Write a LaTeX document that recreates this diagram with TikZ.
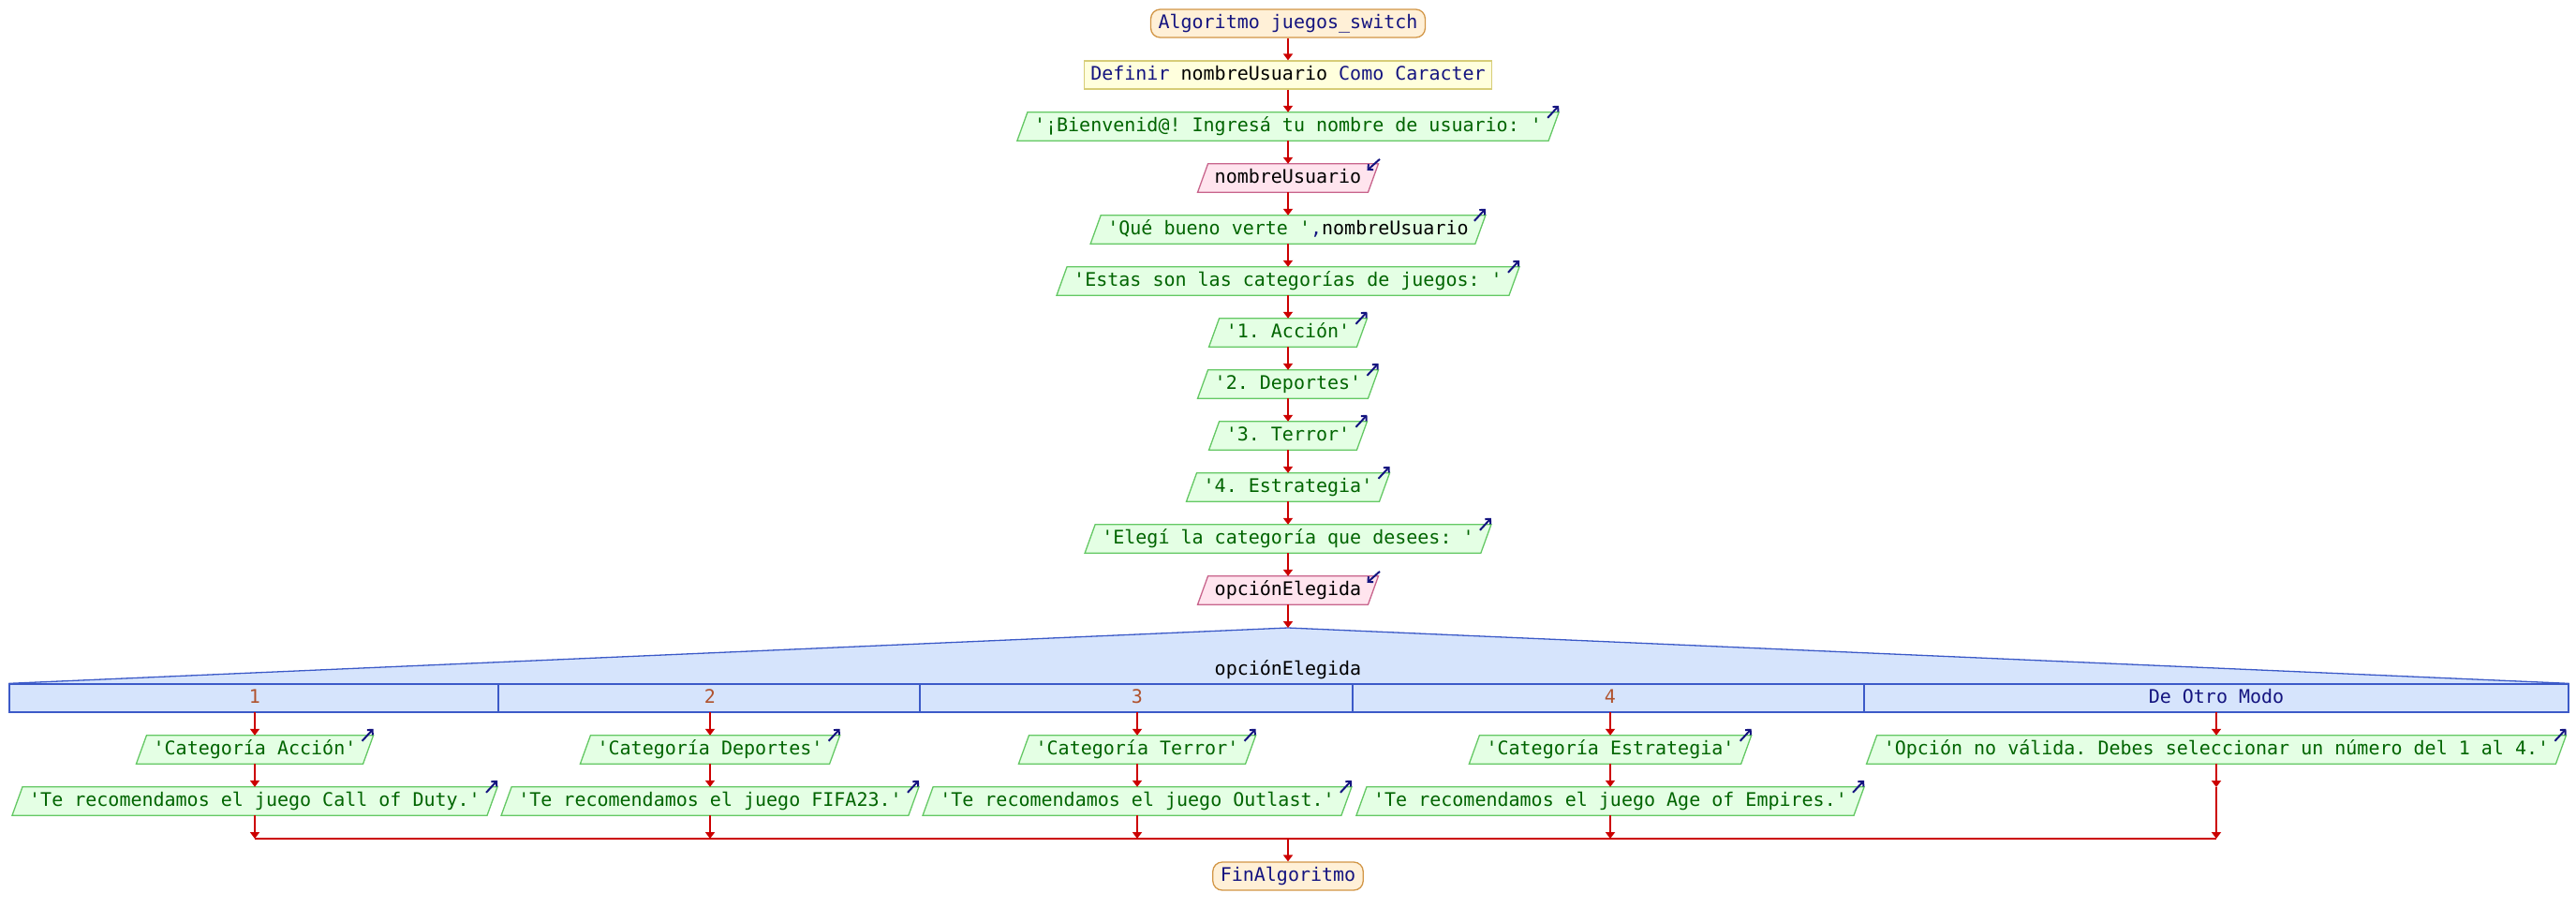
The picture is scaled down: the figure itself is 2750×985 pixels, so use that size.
\documentclass[tikz,border=0pt]{standalone}
\usepackage{fontspec}
\setmonofont{DejaVu Sans Mono}
\usetikzlibrary{arrows.meta}
\pgfdeclarelayer{canvas}
\pgfdeclarelayer{background}
\pgfsetlayers{canvas,background,main}

\definecolor{flowred}{RGB}{204,0,0}
\definecolor{kwblue}{RGB}{20,20,128}
\definecolor{strgreen}{RGB}{0,100,0}
\definecolor{termfill}{RGB}{255,240,215}
\definecolor{termedge}{RGB}{210,150,70}
\definecolor{deffill}{RGB}{255,255,221}
\definecolor{defedge}{RGB}{215,205,120}
\definecolor{outfill}{RGB}{228,255,228}
\definecolor{outedge}{RGB}{100,200,100}
\definecolor{infill}{RGB}{255,228,238}
\definecolor{inedge}{RGB}{200,100,140}
\definecolor{swfill}{RGB}{214,228,252}
\definecolor{swedge}{RGB}{60,90,200}
\definecolor{casenum}{RGB}{176,82,45}

% parallelogram drawn behind a text node
\newcommand\pgram[2]{%
  \begin{pgfonlayer}{background}
  \draw[#2] ([xshift=-5.5pt]#1.south west) -- ([xshift=5.5pt]#1.north west)
    -- ([xshift=5.5pt]#1.north east) -- ([xshift=-5.5pt]#1.south east) -- cycle;
  \end{pgfonlayer}}
% small output / input markers at the top right corner
\newcommand\outmark[1]{\draw[iomark] ([xshift=-6.5pt,yshift=-6pt]#1.north east) -- ([xshift=5.5pt,yshift=7pt]#1.north east);}
\newcommand\inmark[1]{\draw[iomark] ([xshift=7pt,yshift=5pt]#1.north east) -- ([xshift=-6.5pt,yshift=-7pt]#1.north east);}

\tikzset{
  every node/.style={font=\fontsize{20}{24}\selectfont\ttfamily\frenchspacing,
    text height=15pt, text depth=4pt, inner ysep=5.5pt},
  term/.style={draw=termedge, fill=termfill, line width=1.3pt, rounded corners=10pt,
    inner xsep=8pt, text=kwblue},
  defbox/.style={draw=defedge, fill=deffill, line width=1.3pt, inner xsep=6.5pt, text=kwblue},
  outtxt/.style={inner xsep=12.5pt, text=strgreen},
  intxt/.style={inner xsep=12.5pt, text=black},
  outshape/.style={draw=outedge, fill=outfill, line width=1.3pt},
  inshape/.style={draw=inedge, fill=infill, line width=1.3pt},
  flow/.style={draw=flowred, line width=2.5pt, -{Triangle[length=7pt,width=10pt]}},
  joinline/.style={draw=flowred, line width=2.5pt},
  iomark/.style={draw=kwblue, line width=2pt, -{Straight Barb[length=4pt,width=8pt]}},
  swshape/.style={draw=swedge, fill=swfill, line width=1.3pt},
  caselbl/.style={minimum height=30pt, inner sep=0pt},
}

\begin{document}
\begin{tikzpicture}[x=1pt,y=-1pt]
\begin{pgfonlayer}{canvas}
\fill[white] (0,0) rectangle (2750,985);
\end{pgfonlayer}
\useasboundingbox (0,0) rectangle (2750,985);

% main sequence
\node[term] (start) at (1375,25) {Algoritmo juegos\_switch};
\node[defbox] (def) at (1375,80) {Definir \textcolor{black}{nombreUsuario} Como Caracter};
\node[outtxt] (o1) at (1375,135) {'¡Bienvenid@! Ingresá tu nombre de usuario: '};
\node[intxt] (i1) at (1375,190) {nombreUsuario};
\node[outtxt] (o2) at (1375,245) {'Qué bueno verte '\textcolor{kwblue}{,}\textcolor{black}{nombreUsuario}};
\node[outtxt] (o3) at (1375,300) {'Estas son las categorías de juegos: '};
\node[outtxt] (o4) at (1375,355) {'1. Acción'};
\node[outtxt] (o5) at (1375,410) {'2. Deportes'};
\node[outtxt] (o6) at (1375,465) {'3. Terror'};
\node[outtxt] (o7) at (1375,520) {'4. Estrategia'};
\node[outtxt] (o8) at (1375,575) {'Elegí la categoría que desees: '};
\node[intxt] (i2) at (1375,630) {opciónElegida};

\foreach \n in {o1,o2,o3,o4,o5,o6,o7,o8} {\pgram{\n}{outshape}\outmark{\n}}
\foreach \n in {i1,i2} {\pgram{\n}{inshape}\inmark{\n}}

% switch header
\node[swshape, minimum width=2732pt, minimum height=30pt, inner sep=0pt] (sw) at (1376,745) {};
\coordinate (swtop) at (1375,670);
\begin{pgfonlayer}{background}
\fill[swfill] (sw.north west) -- (swtop) -- (sw.north east) -- cycle;
\end{pgfonlayer}
\draw[swedge, line width=1.3pt] (sw.north west) -- (swtop) -- (sw.north east);
\node[text=black] (swlbl) at (1375,715) {opciónElegida};
\foreach \x in {532,982,1444,1990} \draw[swedge, line width=1.3pt] (\x,730) -- (\x,760);

\node[caselbl, text=casenum] (c1) at (272,745) {1};
\node[caselbl, text=casenum] (c2) at (758,745) {2};
\node[caselbl, text=casenum] (c3) at (1214,745) {3};
\node[caselbl, text=casenum] (c4) at (1719,745) {4};
\node[caselbl, text=kwblue] (c5) at (2366,745) {De Otro Modo};

% case bodies
\node[outtxt] (a1) at (272,800) {'Categoría Acción'};
\node[outtxt] (a2) at (272,855) {'Te recomendamos el juego Call of Duty.'};
\node[outtxt] (b1) at (758,800) {'Categoría Deportes'};
\node[outtxt] (b2) at (758,855) {'Te recomendamos el juego FIFA23.'};
\node[outtxt] (d1) at (1214,800) {'Categoría Terror'};
\node[outtxt] (d2) at (1214,855) {'Te recomendamos el juego Outlast.'};
\node[outtxt] (e1) at (1719,800) {'Categoría Estrategia'};
\node[outtxt] (e2) at (1719,855) {'Te recomendamos el juego Age of Empires.'};
\node[outtxt] (f1) at (2366,800) {'Opción no válida. Debes seleccionar un número del 1 al 4.'};
\foreach \n in {a1,a2,b1,b2,d1,d2,e1,e2,f1} {\pgram{\n}{outshape}\outmark{\n}}

\node[term] (fin) at (1375,935) {FinAlgoritmo};

% connectors
\draw[flow] (start) -- (def);
\draw[flow] (def) -- (o1);
\draw[flow] (o1) -- (i1);
\draw[flow] (i1) -- (o2);
\draw[flow] (o2) -- (o3);
\draw[flow] (o3) -- (o4);
\draw[flow] (o4) -- (o5);
\draw[flow] (o5) -- (o6);
\draw[flow] (o6) -- (o7);
\draw[flow] (o7) -- (o8);
\draw[flow] (o8) -- (i2);
\draw[flow] (i2.south) -- (swtop);

\draw[flow] (c1.south) -- (a1.north);
\draw[flow] (a1) -- (a2);
\draw[flow] (c2.south) -- (b1.north);
\draw[flow] (b1) -- (b2);
\draw[flow] (c3.south) -- (d1.north);
\draw[flow] (d1) -- (d2);
\draw[flow] (c4.south) -- (e1.north);
\draw[flow] (e1) -- (e2);
\draw[flow] (c5.south) -- (f1.north);

\coordinate (j1) at (272,895);
\coordinate (j2) at (758,895);
\coordinate (j3) at (1214,895);
\coordinate (j4) at (1719,895);
\coordinate (j5) at (2366,895);
\coordinate (jm) at (1375,895);
\coordinate (fgap) at (2366,840);
\draw[joinline] (j1) -- (j5);
\draw[flow] (a2.south) -- (j1);
\draw[flow] (b2.south) -- (j2);
\draw[flow] (d2.south) -- (j3);
\draw[flow] (e2.south) -- (j4);
\draw[flow] (f1.south) -- (fgap);
\draw[flow] (fgap) -- (j5);
\draw[flow] (jm) -- (fin.north);
\end{tikzpicture}
\end{document}
